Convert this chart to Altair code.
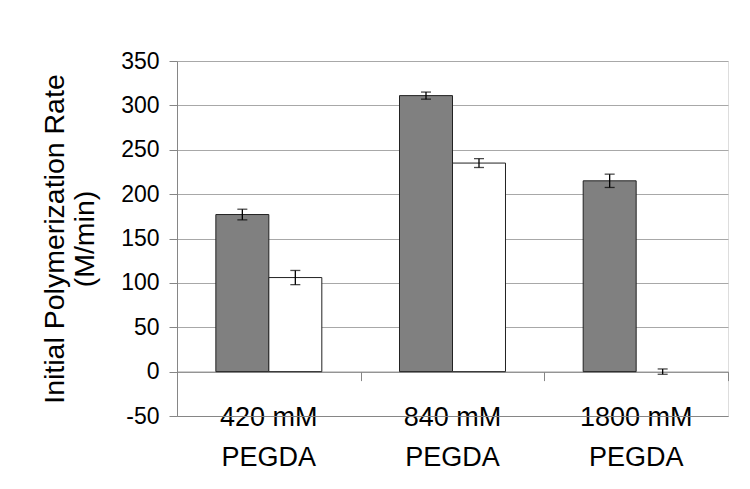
import altair as alt
import pandas as pd

categories = ["420 mM\nPEGDA", "840 mM\nPEGDA", "1800 mM\nPEGDA"]
series = ["A", "B"]
values_a = [177, 311, 215]
errors_a = [6, 4, 7.5]
values_b = [106, 235, 0]
errors_b = [8, 5, 3]
y_ticks = [-50, 0, 50, 100, 150, 200, 250, 300, 350]

rows = []
for c, v, e in zip(categories, values_a, errors_a):
    rows.append({"cat": c, "series": "A", "value": v, "lo": v - e, "hi": v + e})
for c, v, e in zip(categories, values_b, errors_b):
    rows.append({"cat": c, "series": "B", "value": v, "lo": v - e, "hi": v + e})
df = pd.DataFrame(rows)

FONT = "Liberation Sans"
GRID = "#a8a8a8"
AXIS = "#868686"

xscale = alt.Scale(paddingInner=0.423, paddingOuter=0.2115)
xoff = alt.XOffset("series:N", sort=series, scale=alt.Scale(paddingInner=0, paddingOuter=0))
yscale = alt.Scale(domain=[-50, 350], nice=False)
yaxis = alt.Axis(
    values=y_ticks, grid=True, gridColor=GRID, domainColor=AXIS, tickColor=AXIS,
    tickSize=8, labelPadding=10, labelFont=FONT, labelFontSize=23, labelColor="#000",
    labelExpr="replace(datum.label, '\u2212', '-')",
    title=["Initial Polymerization Rate", "(M/min)"], titleFont=FONT, titleFontSize=28.5,
    titleFontWeight="normal", titleColor="#000", titleX=-114, titleY=177.5,
    titleAngle=-90, titleAlign="center", titleBaseline="alphabetic", titleLineHeight=30,
)

base = alt.Chart(df)

bars = base.mark_bar(stroke="#222").encode(
    x=alt.X("cat:N", sort=categories, scale=xscale, axis=alt.Axis(
        orient="bottom", title=None, ticks=False, tickSize=0, labelAngle=0, labelPadding=-12,
        labelFont=FONT, labelFontSize=27, labelColor="#000", labelLineHeight=40,
        labelExpr="split(datum.label, '\\n')", domainColor=AXIS, labelBaseline="top",
    )),
    xOffset=xoff,
    y=alt.Y("value:Q", scale=yscale, axis=yaxis),
    y2=alt.datum(0),
    fill=alt.Color("series:N", scale=alt.Scale(domain=series, range=["#808080", "#ffffff"]), legend=None),
    strokeWidth=alt.condition("datum.value == 0", alt.value(0), alt.value(1)),
)

zero_axis = base.mark_rule(opacity=0).encode(
    x=alt.X("cat:N", sort=categories, scale=alt.Scale(paddingInner=0, paddingOuter=0), axis=alt.Axis(
        orient="bottom", offset=-44.4, labels=False, tickBand="extent", tickSize=9,
        tickColor=AXIS, domainColor=AXIS, title=None, grid=False,
    )),
)

err = base.mark_rule(color="#000", strokeWidth=1.3).encode(
    x=alt.X("cat:N", sort=categories, scale=xscale, axis=None),
    xOffset=xoff,
    y=alt.Y("lo:Q", scale=yscale, axis=yaxis),
    y2="hi:Q",
)

cap_lo = base.mark_tick(color="#000", thickness=1.3, size=10).encode(
    x=alt.X("cat:N", sort=categories, scale=xscale, axis=None),
    xOffset=xoff,
    y=alt.Y("lo:Q", scale=yscale, axis=yaxis),
)
cap_hi = base.mark_tick(color="#000", thickness=1.3, size=10).encode(
    x=alt.X("cat:N", sort=categories, scale=xscale, axis=None),
    xOffset=xoff,
    y=alt.Y("hi:Q", scale=yscale, axis=yaxis),
)

chart = alt.layer(zero_axis, bars, err, cap_lo, cap_hi).resolve_scale(x="independent").resolve_axis(x="independent").properties(
    width=551, height=355,
    autosize=alt.AutoSizeParams(type="none"),
    padding={"left": 169, "top": 53, "right": 14, "bottom": 65},
).configure_view(stroke=AXIS, strokeWidth=1).configure(background="#ffffff")

chart.save("out.html", embed_options={"renderer": "svg", "actions": False})
